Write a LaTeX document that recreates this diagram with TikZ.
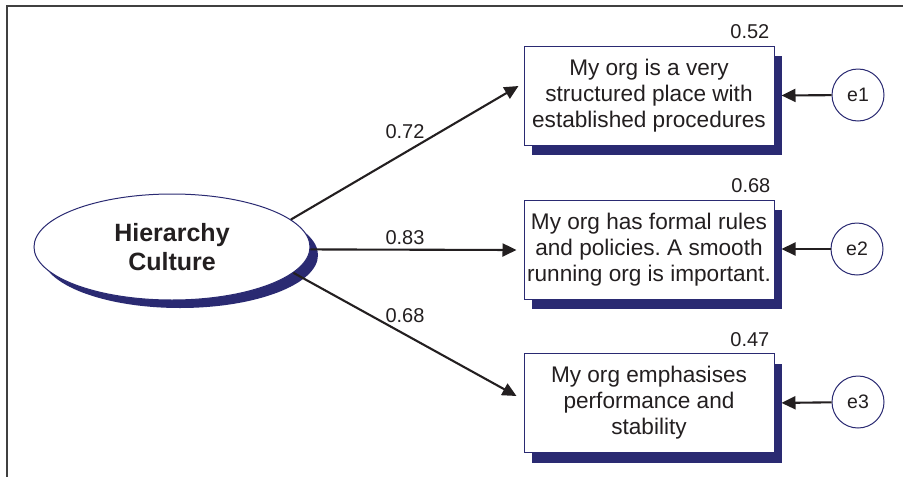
\documentclass[tikz,border=0pt]{standalone}
\usepackage{fontspec}
\setmainfont{Liberation Sans}
\frenchspacing
\usetikzlibrary{shapes.geometric,arrows.meta,shadows}
\definecolor{navy}{RGB}{42,42,114}
\definecolor{ink}{RGB}{35,31,32}
\tikzset{
  arr/.style={line width=2.1pt, ink, -{Triangle[length=14pt,width=13pt]}},
  itembox/.style={draw=navy, line width=1pt, fill=white, minimum width=250pt,
    minimum height=99pt, align=center, text=ink, inner sep=2pt,
    font=\fontsize{22.6}{26}\selectfont,
    drop shadow={shadow xshift=8pt, shadow yshift=-10pt, opacity=1, fill=navy}},
  latent/.style={ellipse, draw=navy, line width=1pt, fill=white, minimum width=276pt,
    minimum height=106pt, align=center, text=ink, inner sep=0pt,
    font=\fontsize{25}{29}\selectfont\bfseries,
    drop shadow={shadow xshift=8pt, shadow yshift=-8pt, opacity=1, fill=navy}},
  errc/.style={circle, draw=navy, line width=1pt, fill=white, minimum size=52pt,
    inner sep=0pt, text=ink, font=\fontsize{19.5}{20}\selectfont},
  coef/.style={text=ink, inner sep=0pt, font=\fontsize{20}{20}\selectfont},
  frame/.style={draw=black!75, line width=1.5pt}
}
\begin{document}
\begin{tikzpicture}[x=1pt,y=-1pt]
\useasboundingbox (0,0) rectangle (903,477);
% frame lines on top and left
\coordinate (ftl) at (7,6);
\coordinate (ftr) at (903,6);
\coordinate (fbl) at (7,477);
\draw[frame] (ftr) -- (ftl) -- (fbl);

% latent variable
\node[latent] (lat) at (172,247) {Hierarchy\\Culture};

% observed items
\node[itembox] (b1) at (649,95.5) {My org is a very\\structured place with\\established procedures};
\node[itembox] (b2) at (649,249.5) {My org has formal rules\\and policies. A smooth\\running org is important.};
\node[itembox] (b3) at (649,403) {My org emphasises\\performance and\\stability};

% squared multiple correlations
\node[coef, anchor=base east] (r1) at ([shift={(-5,-7)}]b1.north east) {0.52};
\node[coef, anchor=base east] (r2) at ([shift={(-4,-7)}]b2.north east) {0.68};
\node[coef, anchor=base east] (r3) at ([shift={(-5,-7)}]b3.north east) {0.47};

% error terms
\node[errc] (e1) at (858,95) {e1};
\node[errc] (e2) at (857,249) {e2};
\node[errc] (e3) at (858,402) {e3};

\draw[arr, shorten >=7pt] (e1) -- (b1.east);
\draw[arr, shorten >=7pt] (e2.west) -- (e2.west -| b2.east);
\draw[arr, shorten >=7pt] (e3) -- (b3.east);

% loadings
\draw[arr] (lat.13) -- ([shift={(-5,-9.5)}]b1.west);
\draw[arr] (lat.-1) -- ([shift={(-7,0.5)}]b2.west);
\draw[arr] (lat.-12.5) -- ([shift={(-7,-7)}]b3.west);

\node[coef] (l1) at (405,132) {0.72};
\node[coef] (l2) at (405,238) {0.83};
\node[coef] (l3) at (405,316) {0.68};
\end{tikzpicture}
\end{document}
